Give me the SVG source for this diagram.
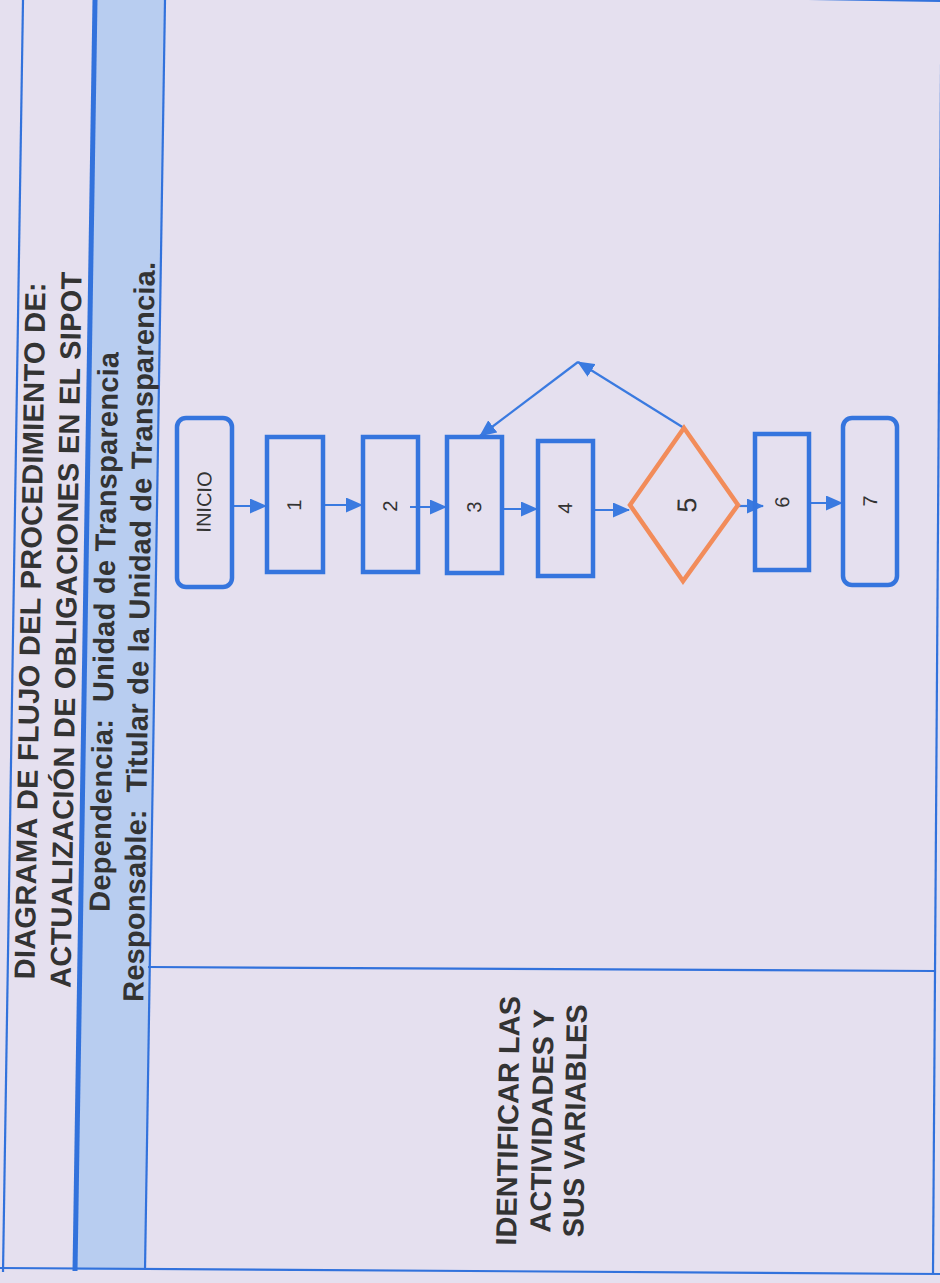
<svg xmlns="http://www.w3.org/2000/svg" width="940" height="1283" viewBox="0 0 940 1283">
<style>
.frame{stroke:#3272dc;stroke-width:2.2;fill:none}
.thick{stroke:#3272dc;stroke-width:5;fill:none}
.box{fill:none;stroke:#3575de;stroke-width:4.5}
.dec{fill:none;stroke:#f28c5a;stroke-width:4.5}
.conn{stroke:#3a7ae0;stroke-width:2.2;fill:none}
.big{font-family:"Liberation Sans",Arial,sans-serif;font-weight:bold;font-size:29px;fill:#333333;text-anchor:middle}
.lbl{font-family:"Liberation Sans",Arial,sans-serif;font-size:20px;fill:#333333;text-anchor:middle}
</style>
<defs>
<marker id="ah" markerUnits="userSpaceOnUse" markerWidth="17" markerHeight="15" viewBox="0 0 17 15" refX="16" refY="7.5" orient="auto">
<path d="M0,0 L17,7.5 L0,15 z" fill="#3a7ae0"/>
</marker>
</defs>
<rect x="0" y="0" width="940" height="1283" fill="#e5e0ef"/>
<g id="frame">
<polygon points="95,0 165,0 145,1270 75,1270" fill="#b8cdf0"/>
<line class="frame" x1="0" y1="-14" x2="940" y2="1"/>
<line class="frame" x1="23" y1="0" x2="3" y2="1272"/>
<line class="thick" x1="95" y1="0" x2="75" y2="1271"/>
<line class="frame" x1="165" y1="0" x2="145" y2="1270"/>
<line class="frame" x1="0" y1="1268" x2="940" y2="1274"/>
<line class="frame" x1="148" y1="967" x2="934" y2="971"/>
<line class="frame" x1="941.5" y1="0" x2="933" y2="1274"/>
</g>
<g id="header">
<text class="big" transform="translate(40,631) rotate(-89.1)" textLength="697">DIAGRAMA DE FLUJO DEL PROCEDIMIENTO DE:</text>
<text class="big" transform="translate(76,630) rotate(-89.1)" textLength="716">ACTUALIZACIÓN DE OBLIGACIONES EN EL SIPOT</text>
<text class="big" transform="translate(114,632) rotate(-89.1)" textLength="560" xml:space="preserve">Dependencia:  Unidad de Transparencia</text>
<text class="big" transform="translate(149,632) rotate(-89.1)" textLength="740" xml:space="preserve">Responsable:  Titular de la Unidad de Transparencia.</text>
</g>
<g id="section">
<text class="big" transform="translate(518,1121) rotate(-89.1)">IDENTIFICAR LAS</text>
<text class="big" transform="translate(552,1121) rotate(-89.1)">ACTIVIDADES Y</text>
<text class="big" transform="translate(585,1121) rotate(-89.1)">SUS VARIABLES</text>
</g>
<g id="connectors">
<line class="conn" x1="232" y1="506" x2="266" y2="506" marker-end="url(#ah)"/>
<line class="conn" x1="323" y1="505" x2="362" y2="505" marker-end="url(#ah)"/>
<line class="conn" x1="410" y1="507" x2="446" y2="507" marker-end="url(#ah)"/>
<line class="conn" x1="502" y1="509" x2="537" y2="509" marker-end="url(#ah)"/>
<line class="conn" x1="593" y1="510" x2="629" y2="510" marker-end="url(#ah)"/>
<line class="conn" x1="738" y1="506" x2="763" y2="506" marker-end="url(#ah)"/>
<line class="conn" x1="809" y1="503" x2="842" y2="503" marker-end="url(#ah)"/>
<line class="conn" x1="684" y1="428" x2="578" y2="362" marker-end="url(#ah)"/>
<line class="conn" x1="578" y1="362" x2="480" y2="436" marker-end="url(#ah)"/>
</g>
<g id="n-inicio">
<rect class="box" x="177" y="418" width="55" height="169" rx="9"/>
<text class="lbl" transform="translate(204,502) rotate(-89.1)" y="7">INICIO</text>
</g>
<g id="n-1">
<rect class="box" x="267" y="437" width="56" height="135"/>
<text class="lbl" transform="translate(294,505) rotate(-89.1)" y="7">1</text>
</g>
<g id="n-2">
<rect class="box" x="363" y="437" width="55" height="135"/>
<text class="lbl" transform="translate(390,506) rotate(-89.1)" y="7">2</text>
</g>
<g id="n-3">
<rect class="box" x="447" y="437" width="55" height="136"/>
<text class="lbl" transform="translate(474,507) rotate(-89.1)" y="7">3</text>
</g>
<g id="n-4">
<rect class="box" x="538" y="441" width="55" height="135"/>
<text class="lbl" transform="translate(565,508) rotate(-89.1)" y="7">4</text>
</g>
<g id="n-5">
<polygon class="dec" points="684,428 738,505 683,581 630,505"/>
<text class="lbl" style="font-size:27px" transform="translate(686,505) rotate(-89.1)" y="10">5</text>
</g>
<g id="n-6">
<rect class="box" x="755" y="434" width="54" height="136"/>
<text class="lbl" transform="translate(782,502) rotate(-89.1)" y="7">6</text>
</g>
<g id="n-7">
<rect class="box" x="843" y="418" width="54" height="167" rx="9"/>
<text class="lbl" transform="translate(870,501) rotate(-89.1)" y="7">7</text>
</g>
</svg>
